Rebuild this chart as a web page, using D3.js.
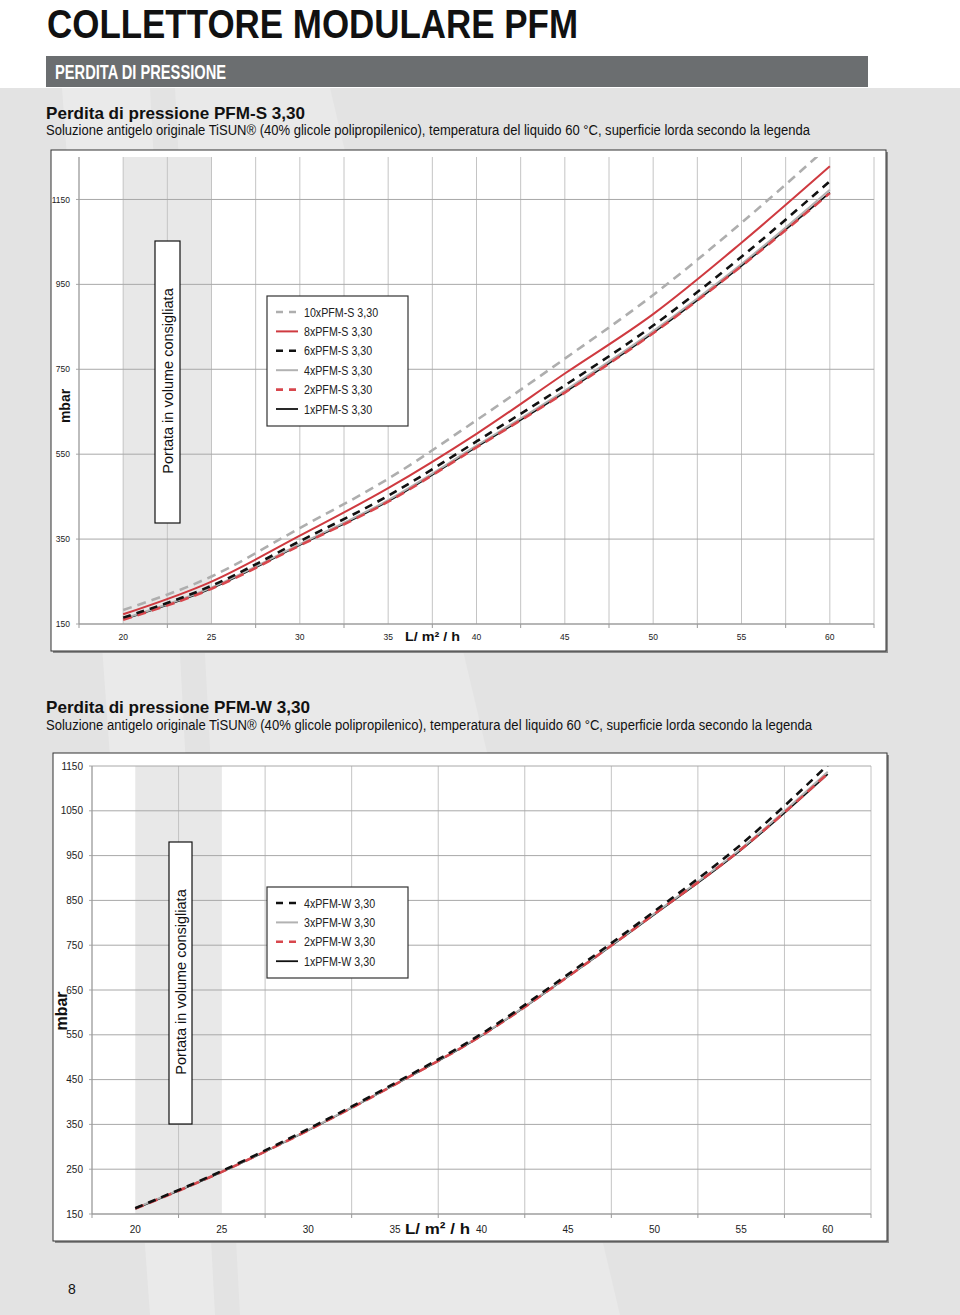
<!DOCTYPE html>
<html>
<head>
<meta charset="utf-8">
<script src="https://cdn.jsdelivr.net/npm/d3@7"></script>
<style>
  body { margin: 0; background: #fff; }
  svg { display: block; }
</style>
</head>
<body>
<script>
// ---- data ----
const flow = [20, 25, 30, 35, 40, 45, 50, 55, 60];
const xTickLabels = [20, 25, 30, 35, 40, 45, 50, 55, 60];

// PFM-S 3,30 (mbar)
const sNames = ["10xPFM-S 3,30", "8xPFM-S 3,30", "6xPFM-S 3,30", "4xPFM-S 3,30", "2xPFM-S 3,30", "1xPFM-S 3,30"];
const s10 = [183, 262, 376, 492, 630, 775, 925, 1095, 1278];
const s8  = [173, 250, 358, 470, 598, 740, 880, 1048, 1228];
const s6  = [165, 240, 345, 452, 580, 712, 853, 1015, 1193];
const s4  = [162, 236, 338, 442, 570, 700, 840, 998, 1173];
const s2  = [160, 233, 335, 438, 566, 695, 835, 993, 1165];
const s1  = [161, 234, 336, 439, 567, 696, 836, 994, 1166];
const sYTicks = [150, 350, 550, 750, 950, 1150];

// PFM-W 3,30 (mbar)
const wNames = ["4xPFM-W 3,30", "3xPFM-W 3,30", "2xPFM-W 3,30", "1xPFM-W 3,30"];
const w4 = [163, 246, 340, 442, 552, 685, 826, 975, 1152];
const w3 = [163, 245, 338, 440, 549, 681, 821, 966, 1137];
const w2 = [162, 244, 337, 439, 548, 680, 820, 964, 1133];
const w1 = [162, 244, 337, 439, 548, 680, 819, 963, 1132];
const wYTicks = [150, 250, 350, 450, 550, 650, 750, 850, 950, 1050, 1150];

// ---- styles ----
const RED = "#cf3a40";
const GREY = "#b2b2b2";
const st = {
  greyDash:  { stroke: "#aeaeae", width: 2.6, dash: "9,6" },
  redSolid:  { stroke: RED, width: 2, dash: null },
  blackDash: { stroke: "#111", width: 2.6, dash: "8,6" },
  greySolid: { stroke: GREY, width: 2, dash: null },
  redDash:   { stroke: "#d8474d", width: 2.6, dash: "9,6" },
  blackSolid:{ stroke: "#111", width: 1.8, dash: null }
};

const svg = d3.select("body").append("svg")
  .attr("width", 960).attr("height", 1315);

// background
svg.append("rect").attr("width", 960).attr("height", 1315).attr("fill", "#fff");
svg.append("rect").attr("y", 88).attr("width", 960).attr("height", 1227).attr("fill", "#e3e3e3");
svg.append("polygon").attr("points", "62,88 150,88 215,1315 150,1315").attr("fill", "#eaeaea");
svg.append("polygon").attr("points", "175,88 330,88 620,1315 240,1315").attr("fill", "#e9e9e9");

// narrow text helper: squeezes a Liberation Sans string to a given width
function txt(g, s, x, y, size, weight, width, anchor) {
  const t = g.append("text").attr("x", x).attr("y", y)
    .attr("font-family", "Liberation Sans, Arial, sans-serif")
    .attr("font-size", size).attr("font-weight", weight || "normal")
    .attr("text-anchor", anchor || "start").text(s);
  if (width) t.attr("textLength", width).attr("lengthAdjust", "spacingAndGlyphs");
  return t;
}

// headings
txt(svg, "COLLETTORE MODULARE PFM", 47, 37.5, 41, "bold", 531).attr("fill", "#111");
svg.append("rect").attr("x", 46).attr("y", 56).attr("width", 822).attr("height", 31).attr("fill", "#6b6e70");
txt(svg, "PERDITA DI PRESSIONE", 55, 79, 20, "bold", 171).attr("fill", "#fff");

txt(svg, "Perdita di pressione PFM-S 3,30", 46, 119, 16.5, "bold", 259).attr("fill", "#111");
txt(svg, "Soluzione antigelo originale TiSUN® (40% glicole polipropilenico), temperatura del liquido 60 °C, superficie lorda secondo la legenda",
  46, 135, 14, "normal", 764).attr("fill", "#111");

txt(svg, "Perdita di pressione PFM-W 3,30", 46, 713, 16.5, "bold", 264).attr("fill", "#111");
txt(svg, "Soluzione antigelo originale  TiSUN® (40% glicole polipropilenico), temperatura del liquido 60 °C, superficie lorda secondo la legenda",
  46, 730, 14, "normal", 766).attr("fill", "#111");

txt(svg, "8", 68, 1294, 14, "normal").attr("fill", "#111");

function drawChart(cfg) {
  const g = svg.append("g");
  const [fx0, fy0, fx1, fy1] = cfg.frame;
  g.append("rect").attr("x", fx0 + 2).attr("y", fy0 + 2).attr("width", fx1 - fx0).attr("height", fy1 - fy0).attr("fill", "#8a8a8a");
  g.append("rect").attr("x", fx0).attr("y", fy0).attr("width", fx1 - fx0).attr("height", fy1 - fy0)
    .attr("fill", "#fff").attr("stroke", "#333").attr("stroke-width", 1);

  const x = d3.scaleLinear().domain([17.5, 62.5]).range([cfg.plot[0], cfg.plot[1]]);
  const y = d3.scaleLinear().domain(cfg.yDomain).range([cfg.plot[3], cfg.plot[2]]);

  // recommended flow band
  g.append("rect").attr("x", x(20)).attr("y", y(cfg.yDomain[1]))
    .attr("width", x(25) - x(20)).attr("height", y(cfg.yDomain[0]) - y(cfg.yDomain[1]))
    .attr("fill", "#e8e8e8");

  // vertical grid
  g.append("g").selectAll("line").data(d3.range(17.5, 62.6, cfg.vStep)).join("line")
    .attr("x1", d => x(d)).attr("x2", d => x(d))
    .attr("y1", y(cfg.yDomain[1])).attr("y2", y(cfg.yDomain[0]))
    .attr("stroke", "#c4c4c4").attr("stroke-width", 1);

  // horizontal grid + y labels
  g.append("g").selectAll("line").data(cfg.yTicks).join("line")
    .attr("x1", x(17.5) - 3).attr("x2", x(62.5))
    .attr("y1", d => y(d)).attr("y2", d => y(d))
    .attr("stroke", "#a8a8a8").attr("stroke-width", 1);
  g.append("g").selectAll("text").data(cfg.yTicks).join("text")
    .attr("x", x(17.5) - 9).attr("y", d => y(d) + cfg.tickSize * 0.36)
    .attr("text-anchor", "end").attr("font-family", "Liberation Sans, Arial, sans-serif")
    .attr("font-size", cfg.tickSize).attr("fill", "#222").text(d => d);

  // axes
  g.append("line").attr("x1", x(17.5)).attr("x2", x(17.5))
    .attr("y1", y(cfg.yDomain[1])).attr("y2", y(cfg.yDomain[0]) + 0).attr("stroke", "#999");
  g.append("line").attr("x1", x(17.5)).attr("x2", x(62.5))
    .attr("y1", y(cfg.yDomain[0])).attr("y2", y(cfg.yDomain[0])).attr("stroke", "#999");
  g.append("g").selectAll("line").data(d3.range(17.5, 62.6, 5)).join("line")
    .attr("x1", d => x(d)).attr("x2", d => x(d))
    .attr("y1", y(cfg.yDomain[0])).attr("y2", y(cfg.yDomain[0]) + 4)
    .attr("stroke", "#999");
  g.append("g").selectAll("text").data(xTickLabels).join("text")
    .attr("x", d => x(d)).attr("y", y(cfg.yDomain[0]) + cfg.xLabDy)
    .attr("text-anchor", "middle").attr("font-family", "Liberation Sans, Arial, sans-serif")
    .attr("font-size", cfg.tickSize).attr("fill", "#222").text(d => d);

  txt(g, "L/ m² / h", cfg.unit[0], cfg.unit[1], cfg.unit[2], "bold", cfg.unit[3]).attr("fill", "#111");

  // mbar
  g.append("text").attr("transform", `translate(${cfg.mbar[0]},${cfg.mbar[1]}) rotate(-90)`)
    .attr("text-anchor", "middle").attr("font-family", "Liberation Sans, Arial, sans-serif")
    .attr("font-weight", "bold").attr("font-size", cfg.mbar[2]).attr("fill", "#111").text("mbar");

  // Portata box
  const b = cfg.box;
  g.append("rect").attr("x", b[0]).attr("y", b[1]).attr("width", b[2]).attr("height", b[3])
    .attr("fill", "#fff").attr("stroke", "#111").attr("stroke-width", 1.2);
  g.append("text").attr("transform", `translate(${b[0] + b[2] / 2 + 5.5},${b[4]}) rotate(-90)`)
    .attr("text-anchor", "middle").attr("font-family", "Liberation Sans, Arial, sans-serif")
    .attr("font-size", 14.5).attr("fill", "#111").text("Portata in volume consigliata");

  // curves
  const clipId = "clip" + cfg.id;
  g.append("clipPath").attr("id", clipId).append("rect")
    .attr("x", x(17.5)).attr("y", y(cfg.yDomain[1]))
    .attr("width", x(62.5) - x(17.5)).attr("height", y(cfg.yDomain[0]) - y(cfg.yDomain[1]));
  const line = d3.line().x((d, i) => x(flow[i])).y(d => y(d)).curve(d3.curveMonotoneX);
  const cg = g.append("g").attr("clip-path", `url(#${clipId})`);
  cfg.order.forEach(i => {
    const s = cfg.series[i];
    cg.append("path").attr("d", line(s.values)).attr("fill", "none")
      .attr("stroke", s.style.stroke).attr("stroke-width", s.style.width)
      .attr("stroke-dasharray", s.style.dash);
  });

  // legend
  const L = cfg.legend;
  g.append("rect").attr("x", L.x).attr("y", L.y).attr("width", L.w).attr("height", L.h)
    .attr("fill", "#fff").attr("stroke", "#333").attr("stroke-width", 1.2);
  cfg.series.forEach((s, i) => {
    const yy = L.y + L.first + i * L.step;
    g.append("line").attr("x1", L.x + 9).attr("x2", L.x + 31).attr("y1", yy).attr("y2", yy)
      .attr("stroke", s.style.stroke).attr("stroke-width", s.style.width)
      .attr("stroke-dasharray", s.style.dash ? "7,6" : null);
    const t = txt(g, s.name, L.x + 37, yy + 4.5, 13, "normal").attr("fill", "#222");
    t.attr("textLength", t.node().getComputedTextLength() * 0.82).attr("lengthAdjust", "spacingAndGlyphs");
  });
}

drawChart({
  id: 1,
  frame: [51, 150, 886, 651],
  plot: [79, 874, 157, 624],
  yDomain: [150, 1250],
  yTicks: sYTicks,
  vStep: 2.5,
  tickSize: 8.5,
  xLabDy: 16,
  unit: [405, 641, 13.5, 55],
  mbar: [70, 406, 14],
  box: [155, 241, 25, 282, 381],
  series: [
    { name: sNames[0], values: s10, style: st.greyDash },
    { name: sNames[1], values: s8,  style: st.redSolid },
    { name: sNames[2], values: s6,  style: st.blackDash },
    { name: sNames[3], values: s4,  style: st.greySolid },
    { name: sNames[4], values: s2,  style: st.redDash },
    { name: sNames[5], values: s1,  style: st.blackSolid }
  ],
  order: [5, 3, 4, 2, 1, 0],
  legend: { x: 267, y: 296, w: 141, h: 130, first: 16, step: 19.4 }
});

drawChart({
  id: 2,
  frame: [53, 753, 887, 1241],
  plot: [92, 871, 766, 1214],
  yDomain: [150, 1150],
  yTicks: wYTicks,
  vStep: 5,
  tickSize: 10,
  xLabDy: 19,
  unit: [405, 1234, 15.5, 65],
  mbar: [67, 1011, 16],
  box: [169, 842, 23, 282, 982],
  series: [
    { name: wNames[0], values: w4, style: st.blackDash },
    { name: wNames[1], values: w3, style: st.greySolid },
    { name: wNames[2], values: w2, style: st.redDash },
    { name: wNames[3], values: w1, style: st.blackSolid }
  ],
  order: [3, 1, 2, 0],
  legend: { x: 267, y: 887, w: 141, h: 91, first: 16, step: 19.4 }
});
</script>
</body>
</html>
